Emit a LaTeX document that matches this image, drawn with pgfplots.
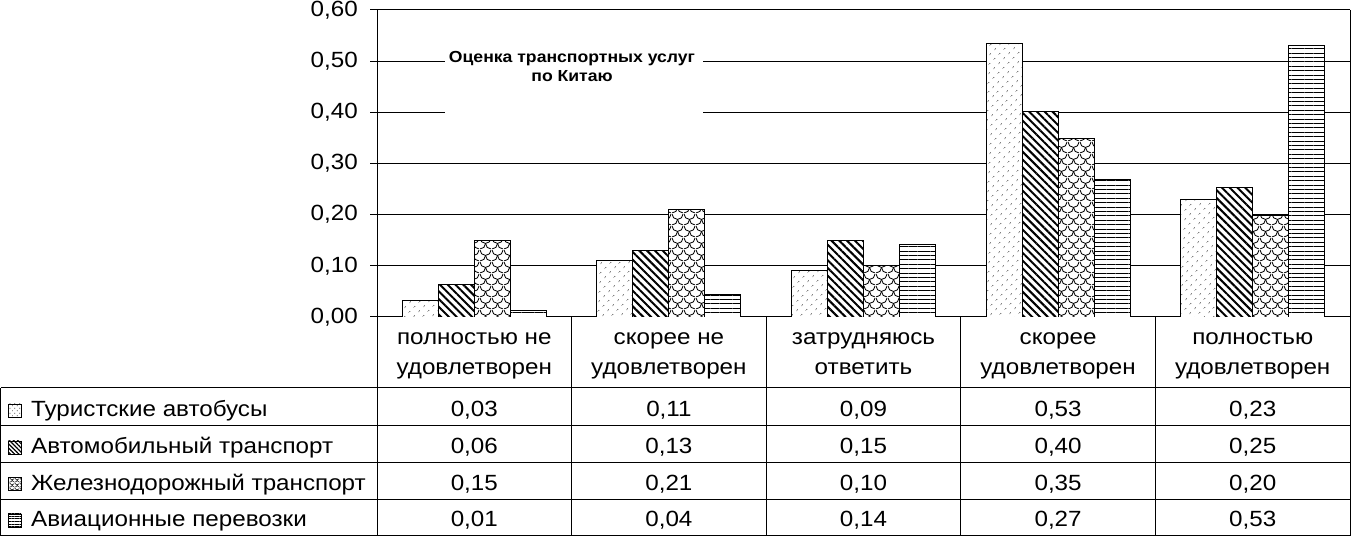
\documentclass[border=0pt]{standalone}
\usepackage{fontspec}
\setmainfont{Liberation Sans}[FakeStretch=1.1]
\usepackage{pgfplots}
\pgfplotsset{compat=1.18}
\usepackage{pgfplotstable}
\usetikzlibrary{patterns.meta}

% fish-scale fill for the railway series
\tikzdeclarepattern{
  name=Scales, type=uncolored,
  bottom left={(0pt,0pt)}, top right={(12pt,12pt)},
  tile size={(12pt,12pt)},
  code={
    \draw[line width=0.9pt] (0pt,12pt) arc[start angle=180,end angle=360,radius=6pt];
    \draw[line width=0.9pt] (0pt,0pt) arc[start angle=270,end angle=360,radius=6pt];
    \draw[line width=0.9pt] (6pt,6pt) arc[start angle=180,end angle=270,radius=6pt];
  }
}
\tikzdeclarepattern{
  name=SmallScales, type=uncolored,
  bottom left={(0pt,0pt)}, top right={(5pt,5pt)},
  tile size={(5pt,5pt)},
  code={
    \draw[line width=0.5pt] (0pt,5pt) arc[start angle=180,end angle=360,radius=2.5pt];
    \draw[line width=0.5pt] (0pt,0pt) arc[start angle=270,end angle=360,radius=2.5pt];
    \draw[line width=0.5pt] (2.5pt,2.5pt) arc[start angle=180,end angle=270,radius=2.5pt];
  }
}

\pgfkeys{/pgf/number format/.cd, fixed, fixed zerofill, precision=2, use comma, assume math mode=true}
\newcommand\tf{\fontsize{22}{26}\selectfont}

\pgfplotstableread{
x A B C D
0 0.033 0.064 0.150 0.012
1 0.111 0.130 0.211 0.044
2 0.090 0.150 0.100 0.141
3 0.534 0.401 0.348 0.268
4 0.229 0.254 0.199 0.530
}\datatab

\begin{document}
\begin{tikzpicture}
\useasboundingbox (0,0) rectangle (1351pt,537pt);
\begin{axis}[
  at={(377pt,220pt)}, anchor=south west,
  scale only axis, width=973pt, height=307pt,
  xmin=-0.5, xmax=4.5, ymin=0, ymax=0.6,
  ybar=0pt, bar width=36pt,
  axis x line=none, axis y line*=left,
  ytick={0,0.1,0.2,0.3,0.4,0.5,0.6},
  ymajorgrids, major grid style={black, line width=1pt},
  tick align=outside, major tick length=7pt,
  ytick style={black, line width=1pt},
  y axis line style={black, line width=1pt},
  yticklabel style={font=\tf, inner sep=0pt, xshift=-12pt,
    /pgf/number format/.cd, fixed, fixed zerofill, precision=2, use comma, assume math mode=true},
]
\addplot[draw=black, line width=0.9pt, fill=white,
  postaction={pattern={Dots[distance=6.5pt, angle=45, radius=0.65pt]}}]
  table[x=x, y=A] {\datatab};
\addplot[draw=black, line width=0.9pt, fill=white,
  postaction={pattern={Lines[angle=-45, distance=5.5pt, line width=2pt]}}]
  table[x=x, y=B] {\datatab};
\addplot[draw=black, line width=0.9pt, fill=white,
  postaction={pattern=Scales}]
  table[x=x, y=C] {\datatab};
\addplot[draw=black, line width=0.9pt, fill=white,
  postaction={pattern={Lines[angle=0, distance=4.4pt, line width=0.8pt]}}]
  table[x=x, y=D] {\datatab};
\end{axis}

% title box
\fill[white] (445pt,419pt) rectangle (703pt,492pt);
\node[anchor=base, inner sep=0pt] at (572pt,474pt) {\fontsize{16}{19}\selectfont\bfseries Оценка транспортных услуг};
\node[anchor=base, inner sep=0pt] at (572pt,455pt) {\fontsize{16}{19}\selectfont\bfseries по Китаю};

% data table
\begin{scope}[line width=1pt, black]
  \foreach \yy in {149,111,74,37.5,1} \draw (0.5pt,\yy pt) -- (1350.5pt,\yy pt);
  \draw (0.5pt,149pt) -- (0.5pt,1pt);
  \draw (377pt,220pt) -- (377pt,1pt);
  \foreach \k in {1,...,4} \draw ({377pt+194.6pt*\k},220pt) -- ({377pt+194.6pt*\k},1pt);
  \draw (1350.5pt,527pt) -- (1350.5pt,1pt);
\end{scope}

\foreach \la/\lb [count=\i from 0] in {полностью не/удовлетворен, скорее не/удовлетворен, затрудняюсь/ответить, скорее/удовлетворен, полностью/удовлетворен} {
  \node[anchor=base, inner sep=0pt] at ({377pt+194.6pt*(\i+0.5)},192pt) {\tf\la};
  \node[anchor=base, inner sep=0pt] at ({377pt+194.6pt*(\i+0.5)},162pt) {\tf\lb};
}

% legend keys
\draw[line width=0.8pt, fill=white, postaction={pattern={Dots[distance=3.5pt, angle=45, radius=0.5pt]}}] (8pt,120pt) rectangle (21pt,133pt);
\draw[line width=0.8pt, fill=white, postaction={pattern={Lines[angle=-45, distance=3pt, line width=1.2pt]}}] (8pt,83pt) rectangle (21pt,96pt);
\draw[line width=0.8pt, fill=white, postaction={pattern=SmallScales}] (8pt,46.5pt) rectangle (21pt,59.5pt);
\draw[line width=0.8pt, fill=white, postaction={pattern={Lines[angle=0, distance=2.6pt, line width=0.6pt]}}] (8pt,10pt) rectangle (21pt,23pt);

\foreach \s/\yb/\name in {A/120/Туристские автобусы, B/83/Автомобильный транспорт,
  C/46.5/Железнодорожный транспорт, D/10/Авиационные перевозки} {
  \node[anchor=base west, inner sep=0pt] at (31pt,\yb pt) {\tf\name};
  \foreach \c in {0,...,4} {
    \pgfplotstablegetelem{\c}{\s}\of\datatab
    \node[anchor=base, inner sep=0pt] at ({377pt+194.6pt*(\c+0.5)},\yb pt) {\tf\pgfmathprintnumber[assume math mode=true]{\pgfplotsretval}};
  }
}
\end{tikzpicture}
\end{document}
